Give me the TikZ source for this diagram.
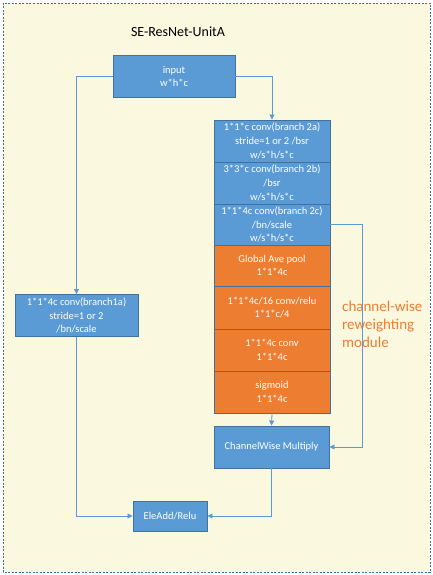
\documentclass[tikz,border=0pt]{standalone}
\usepackage{fontspec}
\setmainfont{Carlito}
\usetikzlibrary{arrows.meta}
\definecolor{bgc}{HTML}{FAF8DF}
\definecolor{frame}{HTML}{3F6F9F}
\definecolor{bluef}{HTML}{5B9BD5}
\definecolor{blued}{HTML}{41719C}
\definecolor{orangef}{HTML}{ED7D31}
\definecolor{lbl}{HTML}{ED7D31}
\tikzset{
  box/.style={draw=blued, line width=0.9pt, fill=bluef, text=white, align=center, inner sep=0pt,
    font=\fontsize{10.5}{13.7}\selectfont, minimum width=#1},
  box/.default=116pt,
  obox/.style={box, fill=orangef},
  conn/.style={draw=bluef, line width=0.8pt},
  arr/.style={conn, -{Triangle[width=5pt,length=5pt]}},
}
\begin{document}
\begin{tikzpicture}[x=1pt,y=-1pt]
\useasboundingbox (0,0) rectangle (432,575);
\path[fill=bgc, draw=frame, line width=0.6pt, dash pattern=on 2pt off 1.5pt] (3,3) rectangle (430,572);
\node[font=\fontsize{14}{16}\selectfont] (title) at (178,32) {SE-ResNet-UnitA};
\node[box=122pt, minimum height=42pt] (in) at (174,76.5) {input\\w*h*c};
\node[box=116pt, minimum height=42pt] (a) at (272,141) {1*1*c conv(branch 2a)\\stride=1 or 2 /bsr\\w/s*h/s*c};
\node[box=116pt, minimum height=42pt] (b) at (272,183) {3*3*c conv(branch 2b)\\/bsr\\w/s*h/s*c};
\node[box=116pt, minimum height=41pt] (c) at (272,224.5) {1*1*4c conv(branch 2c)\\/bn/scale\\w/s*h/s*c};
\node[obox, minimum height=41pt] (g) at (272,265.5) {Global Ave pool\\1*1*4c};
\node[obox, minimum height=43pt] (r) at (272,307.5) {1*1*4c/16 conv/relu\\1*1*c/4};
\node[obox, minimum height=42pt] (f) at (272,350) {1*1*4c conv\\1*1*4c};
\node[obox, minimum height=42pt] (s) at (272,392) {sigmoid\\1*1*4c};
\node[box=115pt, minimum height=42pt] (cw) at (271.5,447) {ChannelWise Multiply};
\node[box=123pt, minimum height=42pt] (b1) at (76.5,315.5) {1*1*4c conv(branch1a)\\stride=1 or 2\\/bn/scale};
\node[box=74pt, minimum height=30pt] (add) at (170,516) {EleAdd/Relu};
\node[text=lbl, align=left, anchor=north west, inner sep=0pt, font=\fontsize{15}{18}\selectfont] (lab) at (342,301) {channel-wise\\reweighting\\module};
\draw[arr] (in.west) -| (b1.north);
\draw[arr] (in.east) -| (a.north);
\draw[arr] (s.south) -- (cw.north);
\draw[arr] (c.east) -- ++(32,0) |- (cw.east);
\draw[arr] (cw.south) |- (add.east);
\draw[arr] (b1.south) |- (add.west);
\end{tikzpicture}
\end{document}
